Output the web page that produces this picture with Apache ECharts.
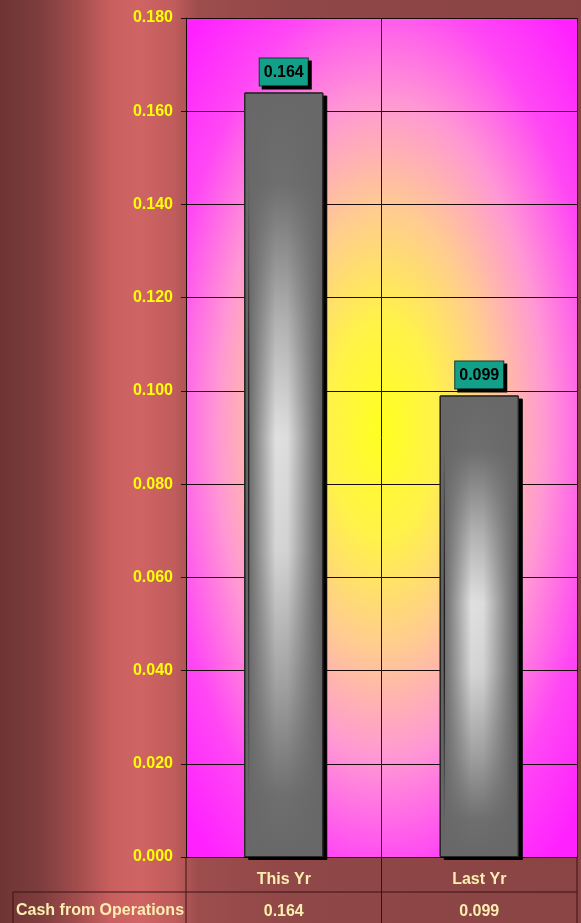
<!DOCTYPE html>
<html>
<head>
<meta charset="utf-8">
<script src="https://cdn.jsdelivr.net/npm/echarts@6/dist/echarts.min.js"></script>
<style>
  html, body { margin: 0; padding: 0; background: #8c4444; overflow: hidden; }
  #chart { width: 581px; height: 923px; }
</style>
</head>
<body>
<div id="chart"></div>
<script>
// Cash from operations, this year vs last year
const categories = ['This Yr', 'Last Yr'];
const cashFromOps = [0.164, 0.099];
const rowLabel = 'Cash from Operations';
const yTicks = { min: 0, max: 0.18, step: 0.02 };

const FONT = '"Liberation Sans", Arial, sans-serif';
const fmt = v => v.toFixed(3);

const chart = echarts.init(document.getElementById('chart'));

const option = {
  animation: false,
  backgroundColor: {
    type: 'linear', x: 0, y: 0, x2: 1, y2: 0,
    colorStops: [
      { offset: 0, color: '#6e3434' },
      { offset: 0.07, color: '#7e3d3d' },
      { offset: 0.13, color: '#a04c4c' },
      { offset: 0.19, color: '#c95f5f' },
      { offset: 0.24, color: '#d06464' },
      { offset: 0.3, color: '#c05c5c' },
      { offset: 0.34, color: '#9e4d4d' },
      { offset: 0.5, color: '#904747' },
      { offset: 1, color: '#8a4444' }
    ]
  },
  grid: { left: 186, right: 4, top: 18, height: 839, containLabel: false },
  xAxis: {
    type: 'category',
    data: categories,
    axisLine: { show: true, lineStyle: { color: '#1a0a0a', width: 1 } },
    axisTick: { show: false },
    splitLine: { show: true, interval: 0, lineStyle: { color: '#2a1010', width: 1 } },
    axisLabel: {
      margin: 7,
      interval: 0,
      formatter: (v, i) => '{a|' + v + '}\n{b|' + fmt(cashFromOps[i]) + '}',
      rich: {
        a: { fontFamily: FONT, fontWeight: 'bold', fontSize: 16, color: '#fbeeb0', lineHeight: 32 },
        b: { fontFamily: FONT, fontWeight: 'bold', fontSize: 16, color: '#fbeeb0', lineHeight: 32 }
      }
    }
  },
  yAxis: {
    type: 'value',
    min: yTicks.min, max: yTicks.max, interval: yTicks.step,
    axisLine: { show: true, lineStyle: { color: '#1a0a0a', width: 1 } },
    axisTick: { show: true, length: 5, lineStyle: { color: '#1a0a0a' } },
    splitLine: { show: true, lineStyle: { color: '#1a0a0a', width: 1 } },
    axisLabel: {
      margin: 13,
      formatter: v => fmt(v),
      fontFamily: FONT, fontWeight: 'bold', fontSize: 16, color: '#ffff00'
    }
  },
  series: [
    {
      type: 'bar',
      data: cashFromOps,
      barWidth: 79,
      z: 3,
      itemStyle: {
        color: {
          type: 'linear', x: 0, y: 0, x2: 1, y2: 0,
          colorStops: [
            { offset: 0, color: '#585858' },
            { offset: 0.15, color: '#8a8a8a' },
            { offset: 0.4, color: '#e4e4e4' },
            { offset: 0.55, color: '#e0e0e0' },
            { offset: 0.82, color: '#8e8e8e' },
            { offset: 1, color: '#5a5a5a' }
          ]
        },
        borderColor: '#262626',
        borderWidth: 1,
        shadowColor: '#000',
        shadowOffsetX: 4,
        shadowOffsetY: 3,
        shadowBlur: 0
      },
      label: {
        show: true,
        position: 'top',
        distance: 7,
        formatter: p => fmt(p.value),
        fontFamily: FONT, fontWeight: 'bold', fontSize: 16, color: '#000',
        padding: [6, 4, 5, 4],
        backgroundColor: '#12a088',
        borderColor: '#0b3a32',
        borderWidth: 1,
        shadowColor: '#000',
        shadowOffsetX: 3,
        shadowOffsetY: 3,
        shadowBlur: 0
      }
    },
    {
      type: 'bar',
      data: cashFromOps,
      barWidth: 79,
      barGap: '-100%',
      z: 4,
      silent: true,
      itemStyle: {
        color: {
          type: 'linear', x: 0, y: 0, x2: 0, y2: 1,
          colorStops: [
            { offset: 0, color: 'rgba(104,104,104,1)' },
            { offset: 0.12, color: 'rgba(104,104,104,0.95)' },
            { offset: 0.3, color: 'rgba(104,104,104,0.4)' },
            { offset: 0.45, color: 'rgba(104,104,104,0.03)' },
            { offset: 0.6, color: 'rgba(104,104,104,0.12)' },
            { offset: 0.78, color: 'rgba(104,104,104,0.55)' },
            { offset: 0.92, color: 'rgba(104,104,104,0.95)' },
            { offset: 1, color: 'rgba(104,104,104,1)' }
          ]
        },
        borderColor: '#262626',
        borderWidth: 1
      }
    }
  ]
};

chart.setOption(option);

// Plot background glow and the data-table rules, placed from the axes' own pixel mapping
const grid = chart.getModel().getComponent('grid', 0).coordinateSystem.getRect();
const x0 = grid.x, x1 = grid.x + grid.width;
const yTop = grid.y, yBase = grid.y + grid.height;
const c0 = chart.convertToPixel({ xAxisIndex: 0 }, categories[0]);
const c1 = chart.convertToPixel({ xAxisIndex: 0 }, categories[1]);
const midX = (c0 + c1) / 2;
const rowTop = yBase + 35;
const H = chart.getHeight();
const lineStyle = { stroke: '#3a1414', lineWidth: 1 };

chart.setOption({
  graphic: [
    {
      type: 'rect', z: -10, silent: true,
      shape: { x: x0, y: yTop, width: grid.width, height: grid.height },
      style: { fill: '#ff22ff' }
    },
    {
      type: 'group', z: -9, silent: true,
      x: x0, y: yTop, scaleY: 2,
      children: [{
        type: 'rect', z: -9,
        shape: { x: 0, y: 0, width: grid.width, height: grid.height / 2 },
        style: {
          fill: {
            type: 'radial', x: (midX - x0) / grid.width, y: 0.49, r: 0.7,
            colorStops: [
              { offset: 0, color: '#ffff20' },
              { offset: 0.2, color: '#fff24a' },
              { offset: 0.4, color: '#ffcc90' },
              { offset: 0.6, color: '#ff98d4' },
              { offset: 0.8, color: '#ff48f4' },
              { offset: 1, color: '#ff22ff' }
            ]
          }
        }
      }]
    },
    { type: 'line', silent: true, shape: { x1: x0, y1: yBase, x2: x0, y2: H }, style: lineStyle },
    { type: 'line', silent: true, shape: { x1: midX, y1: yBase, x2: midX, y2: H }, style: lineStyle },
    { type: 'line', silent: true, shape: { x1: x1, y1: yBase, x2: x1, y2: H }, style: lineStyle },
    { type: 'line', silent: true, shape: { x1: 13, y1: rowTop, x2: x1, y2: rowTop }, style: lineStyle },
    { type: 'line', silent: true, shape: { x1: 13, y1: rowTop, x2: 13, y2: H }, style: lineStyle },
    {
      type: 'text', silent: true,
      x: 16, y: rowTop + 19,
      style: {
        text: rowLabel, fill: '#fbeeb0',
        font: 'bold 16px ' + FONT,
        verticalAlign: 'middle'
      }
    }
  ]
});
</script>
</body>
</html>
